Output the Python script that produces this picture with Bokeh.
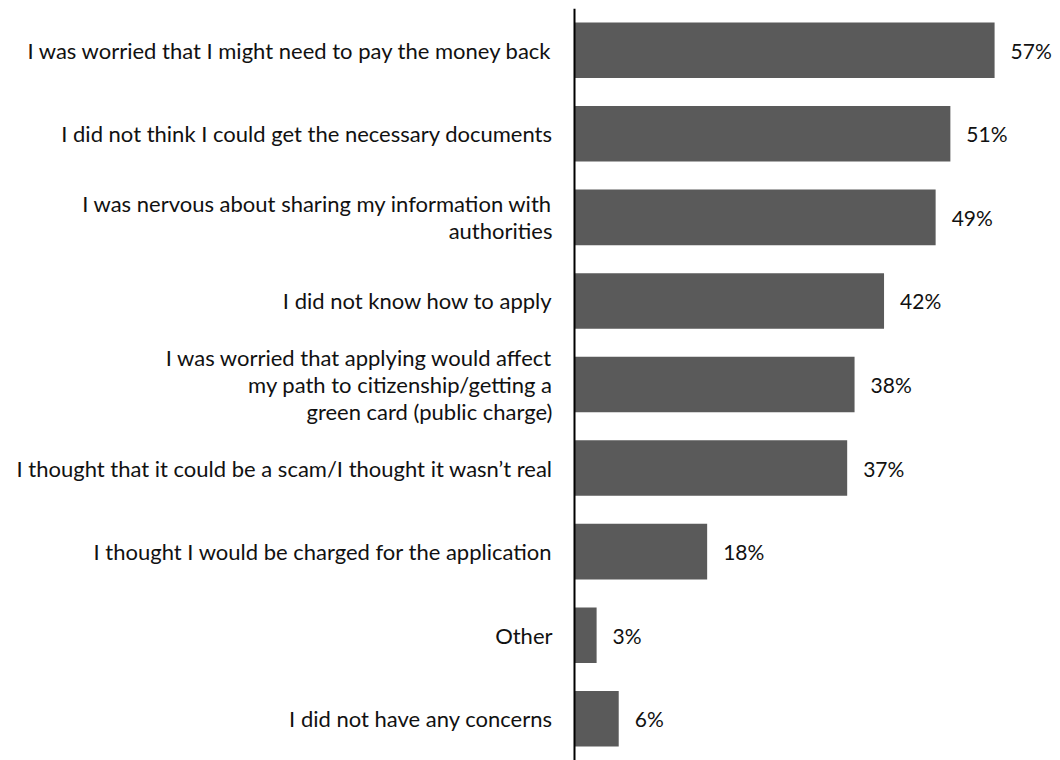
from bokeh.plotting import figure
from bokeh.models import ColumnDataSource, FactorRange, Range1d, Span
from bokeh.core.properties import value
from bokeh.embed import file_html
from bokeh.resources import INLINE

categories = [
    "I was worried that I might need to pay the money back",
    "I did not think I could get the necessary documents",
    "I was nervous about sharing my information with\nauthorities",
    "I did not know how to apply",
    "I was worried that applying would affect\nmy path to citizenship/getting a\ngreen card (public charge)",
    "I thought that it could be a scam/I thought it wasn\u2019t real",
    "I thought I would be charged for the application",
    "Other",
    "I did not have any concerns",
]
values = [57, 51, 49, 42, 38, 37, 18, 3, 6]
value_labels = [f"{v}%" for v in values]

FONT = "Lato"
W, H = 1052, 760
TOP = 8
axis_px = 574.0
px_per_unit = 7.37
x_start = -axis_px / px_per_unit
x_end = (W - axis_px) / px_per_unit

src = ColumnDataSource(dict(cat=categories, val=values, lab=value_labels, zero=[0] * len(values)))

p = figure(
    width=W, height=H,
    y_range=FactorRange(factors=list(reversed(categories)), range_padding=0),
    x_range=Range1d(x_start, x_end),
    output_backend="svg", toolbar_location=None,
    min_border=0, min_border_left=0, min_border_right=0, min_border_top=TOP, min_border_bottom=0,
)
p.outline_line_color = None
p.xaxis.visible = False
p.yaxis.visible = False
p.grid.visible = False
p.background_fill_color = "white"
p.border_fill_color = "white"

p.hbar(y="cat", right="val", left=0, height=0.665, source=src,
       fill_color="#5a5a5a", line_color=None)

p.add_layout(Span(location=0, dimension="height", line_color="#000000", line_width=2))

p.text(x="zero", y="cat", text="cat", source=src, x_offset=-22,
       text_align="right", text_baseline="middle",
       text_font=value(FONT), text_font_size="22px", text_color="#111111",
       text_line_height=1.0)

p.text(x="val", y="cat", text="lab", source=src, x_offset=16,
       text_align="left", text_baseline="middle",
       text_font=value(FONT), text_font_size="21px", text_color="#111111")

open("out.html", "w").write(file_html(p, INLINE))
